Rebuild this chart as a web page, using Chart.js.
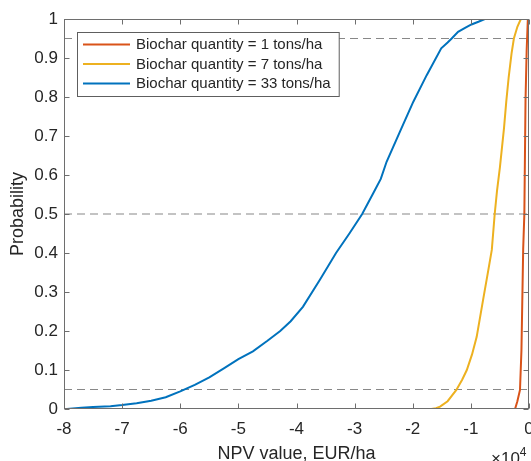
<!DOCTYPE html>
<html>
<head>
<meta charset="utf-8">
<script src="https://cdn.jsdelivr.net/npm/chart.js@4"></script>
<style>
  html, body { margin: 0; padding: 0; background: #fff; }
</style>
</head>
<body>
<canvas id="c" width="531" height="461"></canvas>
<script>
// NPV in units of 10^4 EUR/ha
const seriesLabels = [
    "Biochar quantity = 1 tons/ha",
    "Biochar quantity = 7 tons/ha",
    "Biochar quantity = 33 tons/ha"
];
const seriesColors = ["#D95319", "#EDB120", "#0072BD"];

const npv1  = [-0.24, -0.20, -0.155, -0.13, -0.10, -0.08, -0.06, -0.04, -0.02];
const prob1 = [0, 0.02, 0.049, 0.15, 0.41, 0.50, 0.79, 0.92, 1.0];

const npv7  = [-1.68, -1.60, -1.53, -1.40, -1.25, -1.15, -1.07, -0.98, -0.90, -0.79, -0.70,
               -0.64, -0.59, -0.55, -0.50, -0.43, -0.39, -0.35, -0.30, -0.26, -0.20, -0.14];
const prob7 = [0, 0.002, 0.006, 0.02, 0.049, 0.075, 0.10, 0.14, 0.185, 0.28, 0.356,
               0.408, 0.50, 0.56, 0.62, 0.72, 0.79, 0.85, 0.912, 0.95, 0.98, 1.0];

const npv33  = [-7.95, -7.7, -7.5, -7.2, -7.0, -6.75, -6.5, -6.25, -6.0, -5.75, -5.5, -5.25,
                -5.0, -4.75, -4.5, -4.28, -4.1, -3.89, -3.6, -3.32, -3.09, -2.87, -2.68,
                -2.55, -2.45, -2.22, -1.99, -1.76, -1.51, -1.40, -1.33, -1.22, -1.10, -0.99,
                -0.87, -0.76];
const prob33 = [0, 0.003, 0.005, 0.007, 0.010, 0.015, 0.021, 0.030, 0.045, 0.062, 0.081, 0.104,
                0.128, 0.148, 0.175, 0.20, 0.225, 0.262, 0.331, 0.40, 0.45, 0.50, 0.553,
                0.59, 0.634, 0.711, 0.788, 0.856, 0.925, 0.94, 0.95, 0.967, 0.977, 0.986,
                0.993, 1.0];

const refLevels = [0.05, 0.5, 0.95];
const xMin = -8, xMax = 0;
const xTicks = [-8, -7, -6, -5, -4, -3, -2, -1, 0];
const yTicks = [0, 0.1, 0.2, 0.3, 0.4, 0.5, 0.6, 0.7, 0.8, 0.9, 1];

const FONT = '"Liberation Sans", Arial, Helvetica, sans-serif';
const TEXT = "#262626";
const AXIS = "#6e6e6e";

function pts(xs, ys) {
    return xs.map((x, i) => ({ x: x, y: ys[i] }));
}

const curves = [[npv1, prob1], [npv7, prob7], [npv33, prob33]].map((s, i) => ({
    label: seriesLabels[i],
    data: pts(s[0], s[1]),
    borderColor: seriesColors[i],
    borderWidth: 2,
    pointRadius: 0,
    tension: 0,
    inLegend: true
}));

const refs = refLevels.map(v => ({
    label: "ref " + v,
    data: pts([xMin, xMax], [v, v]),
    borderColor: "#888888",
    borderWidth: 1.2,
    borderDash: [8, 5],
    pointRadius: 0
}));

// box round the axes with inward ticks, like the original
const axesBox = {
    id: "axesBox",
    afterDatasetsDraw(chart) {
        const { ctx, chartArea: a, scales } = chart;
        const L = a.left + 0.5, R = a.right - 0.5, T = a.top + 0.5, B = a.bottom - 0.5;
        ctx.save();
        ctx.strokeStyle = AXIS;
        ctx.lineWidth = 1;
        ctx.strokeRect(L, T, R - L, B - T);
        ctx.beginPath();
        xTicks.forEach(v => {
            const px = Math.round(scales.x.getPixelForValue(v)) + 0.5;
            ctx.moveTo(px, B); ctx.lineTo(px, B - 5);
            ctx.moveTo(px, T); ctx.lineTo(px, T + 5);
        });
        yTicks.forEach(v => {
            const py = Math.round(scales.y.getPixelForValue(v)) + 0.5;
            ctx.moveTo(L, py); ctx.lineTo(L + 5, py);
            ctx.moveTo(R, py); ctx.lineTo(R - 5, py);
        });
        ctx.stroke();
        ctx.restore();
    },
    afterDraw(chart) {
        const ctx = chart.ctx;
        ctx.save();
        // exponent label
        ctx.fillStyle = TEXT;
        ctx.textBaseline = "alphabetic";
        ctx.font = "17px " + FONT;
        ctx.fillText("\u00d710", 491, 464);
        const w = ctx.measureText("\u00d710").width;
        ctx.font = "12px " + FONT;
        ctx.fillText("4", 491 + w, 456);

        // legend
        const sets = chart.data.datasets.filter(d => d.inLegend);
        ctx.font = "15px " + FONT;
        let tw = 0;
        sets.forEach(d => { tw = Math.max(tw, ctx.measureText(d.label).width); });
        const bx = 77.5, by = 32.5, bw = 59 + tw + 8, bh = 64;
        ctx.fillStyle = "#fff";
        ctx.fillRect(bx, by, bw, bh);
        ctx.strokeStyle = "#5e5e5e";
        ctx.lineWidth = 1;
        ctx.strokeRect(bx, by, bw, bh);
        sets.forEach((d, i) => {
            const yy = 44.5 + i * 19.5;
            ctx.strokeStyle = d.borderColor;
            ctx.lineWidth = 2;
            ctx.beginPath();
            ctx.moveTo(83, yy);
            ctx.lineTo(130, yy);
            ctx.stroke();
            ctx.fillStyle = TEXT;
            ctx.textBaseline = "middle";
            ctx.fillText(d.label, 136, yy + 0.5);
        });
        ctx.restore();
    }
};

new Chart(document.getElementById("c"), {
    type: "line",
    data: { datasets: curves.concat(refs) },
    options: {
        responsive: false,
        animation: false,
        events: [],
        layout: { autoPadding: false, padding: { top: 19, right: 2, left: 0, bottom: 0 } },
        plugins: { legend: { display: false }, tooltip: { enabled: false } },
        scales: {
            x: {
                type: "linear",
                min: xMin,
                max: xMax,
                afterFit: s => {
                    s.height = 52;
                    s.paddingLeft = 0;
                    s.paddingRight = 0;
                },
                afterBuildTicks: s => { s.ticks = xTicks.map(v => ({ value: v })); },
                grid: { display: false, drawTicks: false },
                border: { display: false },
                ticks: {
                    padding: 10,
                    color: TEXT,
                    font: { family: FONT, size: 17 },
                    maxRotation: 0,
                    callback: v => String(v)
                },
                title: {
                    display: true,
                    text: "NPV value, EUR/ha",
                    color: TEXT,
                    font: { family: FONT, size: 18 },
                    padding: { top: 0, bottom: -4 }
                }
            },
            y: {
                type: "linear",
                min: 0,
                max: 1,
                afterFit: s => {
                    s.width = 64;
                    s.paddingTop = 0;
                    s.paddingBottom = 0;
                },
                afterBuildTicks: s => { s.ticks = yTicks.map(v => ({ value: v })); },
                grid: { display: false, drawTicks: false },
                border: { display: false },
                ticks: {
                    padding: 6,
                    color: TEXT,
                    font: { family: FONT, size: 17 },
                    callback: v => String(Math.round(v * 10) / 10)
                },
                title: {
                    display: true,
                    text: "Probability",
                    color: TEXT,
                    font: { family: FONT, size: 18 },
                    padding: { top: 7, bottom: 0 }
                }
            }
        }
    },
    plugins: [axesBox]
});
</script>
</body>
</html>
